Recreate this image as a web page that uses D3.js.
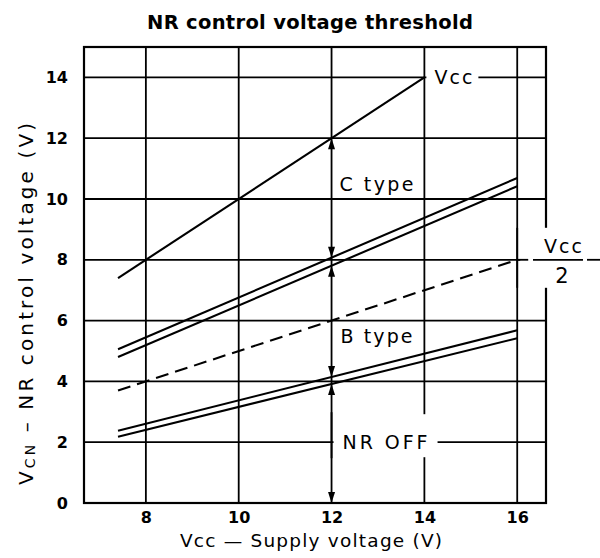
<!DOCTYPE html>
<html>
<head>
<meta charset="utf-8">
<script src="https://cdn.jsdelivr.net/npm/d3@7"></script>
<style>
  body { margin: 0; background: #fff; }
  text { font-family: 'DejaVu Sans', sans-serif; fill: #000; }
</style>
</head>
<body>
<div id="chart"></div>
<script>
// values
let xTicks = [8, 10, 12, 14, 16]
let yTicks = [0, 2, 4, 6, 8, 10, 12, 14]
let vccX = [7.4, 14]
let vccY = [7.4, 14]
let lineX = [7.4, 16]
let cUpper = [5.06, 10.69]
let cLower = [4.8, 10.42]
let halfVcc = [3.7, 8.0]
let bUpper = [2.38, 5.68]
let bLower = [2.18, 5.42]
let markX = 12

let W = 600, H = 558

let x = d3.scaleLinear().domain([6.667, 16.62]).range([84, 546])
let y = d3.scaleLinear().domain([0, 15]).range([503, 47])

let svg = d3.select('#chart').append('svg')
  .attr('width', W)
  .attr('height', H)

// value of a 2-point line at xv
let at = (ys, xv) => ys[0] + (ys[1] - ys[0]) * (xv - lineX[0]) / (lineX[1] - lineX[0])

// grid
svg.append('g').selectAll('line')
  .data(yTicks.filter(d => d > 0))
  .enter().append('line')
  .attr('x1', x.range()[0]).attr('x2', x.range()[1])
  .attr('y1', d => y(d)).attr('y2', d => y(d))
  .attr('stroke', '#000').attr('stroke-width', 1.8)

svg.append('g').selectAll('line')
  .data(xTicks)
  .enter().append('line')
  .attr('x1', d => x(d)).attr('x2', d => x(d))
  .attr('y1', y.range()[0]).attr('y2', y.range()[1])
  .attr('stroke', '#000').attr('stroke-width', 1.8)

// frame
svg.append('rect')
  .attr('x', x.range()[0]).attr('y', y.range()[1])
  .attr('width', x.range()[1] - x.range()[0])
  .attr('height', y.range()[0] - y.range()[1])
  .attr('fill', 'none').attr('stroke', '#000').attr('stroke-width', 2.2)

// tick labels
let xAxis = svg.append('g')
  .attr('transform', 'translate(0,' + y(0) + ')')
  .call(d3.axisBottom(x).tickValues(xTicks).tickSize(0).tickPadding(9))
let yAxis = svg.append('g')
  .attr('transform', 'translate(' + x.range()[0] + ',0)')
  .call(d3.axisLeft(y).tickValues(yTicks).tickSize(0).tickPadding(16))
;[xAxis, yAxis].forEach(a => {
  a.select('.domain').remove()
  a.selectAll('text')
    .attr('font-family', "'Liberation Sans', Arial, sans-serif")
    .attr('font-size', 16).attr('font-weight', 'bold')
})

// series
let line = d3.line().x(d => x(d[0])).y(d => y(d[1]))
let drawLine = (xs, ys, dash) => {
  svg.append('path')
    .attr('d', line(xs.map((v, i) => [v, ys[i]])))
    .attr('fill', 'none').attr('stroke', '#000').attr('stroke-width', 2.1)
    .attr('stroke-dasharray', dash || null)
}
drawLine(vccX, vccY)
drawLine(lineX, cUpper)
drawLine(lineX, cLower)
drawLine(lineX, halfVcc, '13,7')
drawLine(lineX, bUpper)
drawLine(lineX, bLower)

// arrowheads on the 12 V line
let arrows = [
  { v: 12, dir: 'up' },
  { v: at(cUpper, markX), dir: 'down' },
  { v: at(cLower, markX), dir: 'up' },
  { v: at(bUpper, markX), dir: 'down' },
  { v: at(bLower, markX), dir: 'up' },
  { v: 0, dir: 'down' }
]
svg.append('g').selectAll('path')
  .data(arrows)
  .enter().append('path')
  .attr('d', 'M0,0L-3.5,11L3.5,11Z')
  .attr('transform', d => 'translate(' + x(markX) + ',' + y(d.v) + ')' + (d.dir == 'down' ? 'scale(1,-1)' : ''))
  .attr('fill', '#000')

// labels with white knock-outs
let label = (txt, cx, cy, len, bg) => {
  if (bg) {
    svg.append('rect').attr('x', bg[0]).attr('y', bg[1]).attr('width', bg[2]).attr('height', bg[3]).attr('fill', '#fff')
  }
  svg.append('text')
    .attr('x', cx).attr('y', cy)
    .attr('font-size', 19)
    .attr('textLength', len).attr('lengthAdjust', 'spacing')
    .text(txt)
}
label('Vcc', x(14) + 10, y(14) + 7, 38, [x(14) + 2, y(14) - 10, 52, 20])
label('C  type', x(12) + 8, y(10.5) + 7, 74)
label('B  type', x(12) + 9, y(5.5) + 7, 72)
label('NR  OFF', x(12) + 11, y(2) + 7, 85, [x(12) + 2, y(2) - 28, 104, 43])

// redraw the 12 V line through the NR OFF knock-out
svg.append('line')
  .attr('x1', x(markX)).attr('x2', x(markX))
  .attr('y1', y(2) - 30).attr('y2', y(2) + 16)
  .attr('stroke', '#000').attr('stroke-width', 1.8)

// Vcc/2 at the right edge
let fx = 563
svg.append('rect').attr('x', x(16) + 3).attr('y', y(8) - 32).attr('width', 90).attr('height', 60).attr('fill', '#fff')
svg.append('line')
  .attr('x1', x(16)).attr('x2', x(16) + 11).attr('y1', y(8)).attr('y2', y(8))
  .attr('stroke', '#000').attr('stroke-width', 1.8)
svg.append('line')
  .attr('x1', x(16)).attr('x2', x(16)).attr('y1', y(8) - 32).attr('y2', y(8) + 28)
  .attr('stroke', '#000').attr('stroke-width', 1.8)
svg.append('line')
  .attr('x1', fx - 30).attr('x2', fx + 20).attr('y1', y(8)).attr('y2', y(8))
  .attr('stroke', '#000').attr('stroke-width', 1.8)
svg.append('line')
  .attr('x1', fx + 24).attr('x2', W).attr('y1', y(8)).attr('y2', y(8))
  .attr('stroke', '#000').attr('stroke-width', 1.8)
svg.append('text').attr('x', fx).attr('y', y(8) - 7)
  .attr('text-anchor', 'middle').attr('font-size', 19)
  .attr('textLength', 38).attr('lengthAdjust', 'spacing').text('Vcc')
svg.append('text').attr('x', fx - 1).attr('y', y(8) + 23)
  .attr('text-anchor', 'middle').attr('font-size', 21).text('2')

// title and axis titles
svg.append('text')
  .attr('x', 310).attr('y', 29)
  .attr('text-anchor', 'middle')
  .attr('font-size', 19.5).attr('font-weight', 'bold')
  .attr('textLength', 326).attr('lengthAdjust', 'spacing')
  .text('NR control voltage threshold')

svg.append('text')
  .attr('x', 311).attr('y', 547)
  .attr('text-anchor', 'middle')
  .attr('font-size', 18.5)
  .attr('textLength', 262).attr('lengthAdjust', 'spacing')
  .text('Vcc \u2014 Supply  voltage  (V)')

let yl = svg.append('text')
  .attr('text-anchor', 'middle')
  .attr('transform', 'translate(' + 33 + ',' + 304 + ')rotate(-90)')
  .attr('font-size', 20)
  .attr('textLength', 362).attr('lengthAdjust', 'spacing')
yl.append('tspan').text('V')
yl.append('tspan').attr('font-size', 14).attr('dy', 2).text('CN')
yl.append('tspan').attr('dy', -2).text(' \u2013 NR  control  voltage  (V)')
</script>
</body>
</html>
